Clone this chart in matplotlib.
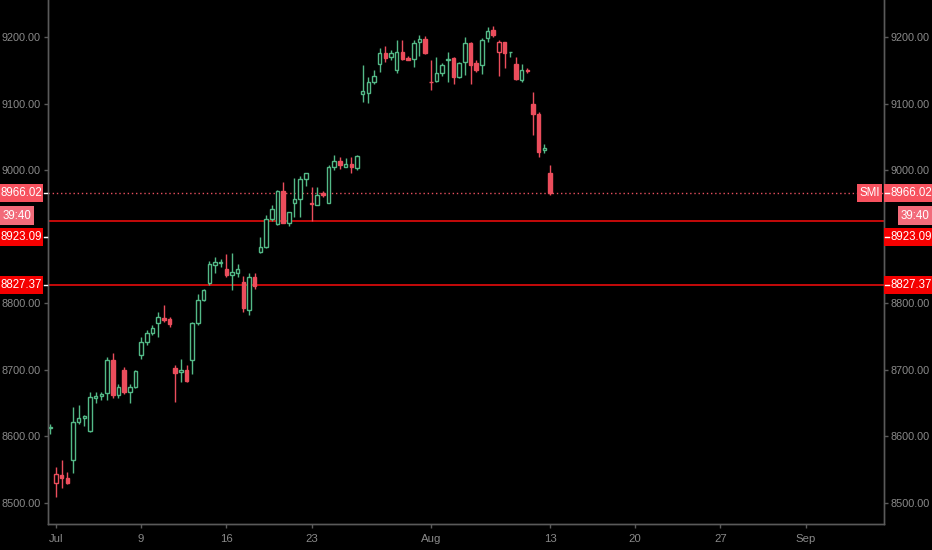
import matplotlib
matplotlib.use('Agg')
import matplotlib.pyplot as plt
import numpy as np
from matplotlib.lines import Line2D
from matplotlib.patches import Rectangle
from matplotlib.transforms import IdentityTransform

plt.rcParams['font.family'] = ['Liberation Sans', 'DejaVu Sans']

# 3-hour SMI candles, Jun 29 (last session) .. Aug 13 (first session)
opens = [8612, 8530, 8542, 8538, 8565, 8622, 8628, 8608, 8658, 8661,
         8665, 8715, 8662, 8700, 8667, 8674, 8722, 8742, 8755, 8770,
         8778, 8776, 8703, 8696, 8700, 8715, 8770, 8805, 8830, 8858,
         8861, 8851, 8842, 8845, 8832, 8790, 8840, 8877, 8885, 8927,
         8919, 8969, 8921, 8951, 8957, 8987, 8950, 8948, 8965, 8951,
         9005, 9014, 9004, 9009, 9003, 9114, 9116, 9132, 9159, 9176,
         9170, 9150, 9177, 9168, 9167, 9192, 9197, 9133, 9134, 9146,
         9166, 9168, 9140, 9162, 9191, 9161, 9158, 9198, 9210, 9177,
         9192, 9177, 9159, 9135, 9150, 9099, 9084, 9030, 8996]
highs = [8618, 8554, 8565, 8547, 8644, 8647, 8632, 8667, 8667, 8667,
         8720, 8725, 8679, 8704, 8679, 8700, 8750, 8760, 8767, 8787,
         8797, 8780, 8708, 8717, 8707, 8772, 8814, 8822, 8864, 8870,
         8866, 8874, 8876, 8859, 8841, 8845, 8845, 8900, 8932, 8947,
         8970, 8982, 8937, 8988, 8991, 8996, 8975, 8975, 8969, 9008,
         9023, 9020, 9018, 9020, 9023, 9158, 9140, 9151, 9183, 9186,
         9180, 9195, 9196, 9172, 9195, 9203, 9201, 9166, 9170, 9161,
         9177, 9170, 9163, 9200, 9193, 9165, 9199, 9215, 9216, 9195,
         9193, 9178, 9170, 9160, 9153, 9117, 9087, 9040, 9008]
lows = [8603, 8509, 8523, 8528, 8545, 8618, 8615, 8606, 8650, 8655,
        8655, 8658, 8658, 8664, 8650, 8672, 8716, 8737, 8752, 8750,
        8772, 8764, 8651, 8682, 8681, 8693, 8767, 8803, 8827, 8845,
        8855, 8840, 8820, 8840, 8787, 8783, 8822, 8876, 8883, 8924,
        8917, 8920, 8916, 8930, 8930, 8976, 8923, 8948, 8959, 8950,
        9000, 9002, 9004, 8995, 9000, 9102, 9101, 9130, 9147, 9163,
        9166, 9146, 9165, 9165, 9155, 9172, 9175, 9121, 9133, 9142,
        9133, 9130, 9138, 9143, 9130, 9148, 9145, 9192, 9200, 9142,
        9154, 9170, 9136, 9133, 9146, 9053, 9020, 9025, 8962]
closes = [8614, 8544, 8538, 8530, 8622, 8628, 8630, 8659, 8660, 8663,
          8715, 8662, 8674, 8667, 8674, 8698, 8742, 8755, 8763, 8779,
          8775, 8769, 8695, 8700, 8683, 8770, 8805, 8820, 8859, 8862,
          8862, 8842, 8847, 8851, 8793, 8840, 8826, 8885, 8927, 8942,
          8969, 8921, 8937, 8957, 8987, 8996, 8949, 8963, 8962, 9005,
          9014, 9008, 9009, 9004, 9021, 9119, 9132, 9141, 9176, 9168,
          9176, 9178, 9167, 9166, 9191, 9197, 9176, 9132, 9146, 9158,
          9167, 9140, 9161, 9191, 9158, 9150, 9195, 9209, 9203, 9192,
          9176, 9178, 9137, 9150, 9149, 9084, 9027, 9033, 8966.02]

# session index of each date label on the time axis
tick_pos = [1, 16, 31, 46, 67, 88, 103, 118, 133]
tick_labels = ['Jul', '9', '16', '23', 'Aug', '13', '20', '27', 'Sep']

y_ticks = [8500, 8600, 8700, 8800, 8900, 9000, 9100, 9200]
hidden_ticks = [8900]  # sits under the price tags

last_price = 8966.02
level_hi = 8923.09
level_lo = 8827.37
countdown = '39:40'
symbol = 'SMI'

up_col = '#53b987'
down_col = '#eb4d5c'
bg = '#000000'
grey = '#8a8a8a'
spine_col = '#5a5a5a'

W, H = 932, 550
fig = plt.figure(figsize=(W / 100, H / 100), dpi=100, facecolor=bg)
ax = fig.add_axes([47.6 / W, 26 / H, (884 - 47.6) / W, 524 / H])
ax.set_facecolor(bg)

x = np.arange(len(closes))
o = np.array(opens, float)
c = np.array(closes, float)
prev = np.concatenate([[o[0]], c[:-1]])
colors = np.where(c >= prev, up_col, down_col)
filled = c < o

ax.vlines(x, lows, highs, colors=colors, linewidth=1, zorder=2)
bottom = np.minimum(o, c)
height = np.maximum(np.abs(c - o), 0.8)
faces = [col if f else bg for col, f in zip(colors, filled)]
ax.bar(x, height, bottom=bottom, width=0.62, color=faces, edgecolor=colors,
       linewidth=1, zorder=3)

ax.axhline(last_price, color='#e8505f', linewidth=1, linestyle=(0, (1, 2)), zorder=1)
ax.axhline(level_hi, color='#d40a0a', linewidth=1.3, zorder=1)
ax.axhline(level_lo, color='#d40a0a', linewidth=1.3, zorder=1)

ax.set_xlim(-0.47, 146.8)
ax.set_ylim(8468.4, 9255.6)

ylabels = ['' if v in hidden_ticks else '%.2f' % v for v in y_ticks]

ax.set_xticks(tick_pos)
ax.set_xticklabels(tick_labels)
ax.set_yticks(y_ticks)
ax.set_yticklabels(ylabels)
ax.tick_params(axis='both', colors=spine_col, labelcolor=grey, labelsize=7.8,
               length=3, width=1)
ax.tick_params(axis='y', pad=2)
ax.tick_params(axis='x', pad=4, labelsize=8.2)

ax2 = ax.twinx()
ax2.set_ylim(ax.get_ylim())
ax2.set_yticks(y_ticks)
ax2.set_yticklabels(ylabels)
ax2.tick_params(axis='y', colors=spine_col, labelcolor=grey, labelsize=7.8,
                length=3, width=1, pad=2)

for a in (ax, ax2):
    a.spines['top'].set_visible(False)
    for side in ('left', 'right', 'bottom'):
        a.spines[side].set_color(spine_col)
        a.spines[side].set_linewidth(1)

# price tags on both scales
fig.canvas.draw()
ident = IdentityTransform()


def ypix(v):
    return ax.transData.transform((0, v))[1]


def tag(x0, x1, yc, text, face, h=18, tick=None, tx=None):
    fig.add_artist(Rectangle((x0, yc - h / 2), x1 - x0, h, transform=ident,
                             facecolor=face, edgecolor='none', zorder=10))
    if tx is None:
        tx = (x0 + x1) / 2
    fig.text(tx, yc, text, transform=ident, color='white',
             fontsize=8.3, ha='center', va='center', zorder=11)
    if tick is not None:
        fig.add_artist(Line2D(tick, [yc, yc], transform=ident, color='white',
                              linewidth=1, zorder=12))


y_last = ypix(last_price)
y_cd = y_last - 23
y_hi = ypix(level_hi) - 16
y_lo = ypix(level_lo)

tag(0, 43, y_last, '%.2f' % last_price, '#f7525f', tick=(44, 47))
tag(0, 34, y_cd, countdown, '#f26b7a', h=19)
tag(0, 43, y_hi, '%.2f' % level_hi, '#f50000', tick=(44, 47))
tag(0, 43, y_lo, '%.2f' % level_lo, '#f50000', tick=(44, 47))

tag(884, 932, y_last, '%.2f' % last_price, '#f7525f', tick=(885, 889), tx=911)
tag(857, 882, y_last, symbol, '#f7525f')
tag(898, 932, y_cd, countdown, '#f26b7a', h=19)
tag(884, 932, y_hi, '%.2f' % level_hi, '#f50000', tick=(885, 889), tx=911)
tag(884, 932, y_lo, '%.2f' % level_lo, '#f50000', tick=(885, 889), tx=911)

fig.savefig('out.png', dpi=100, facecolor=bg)
